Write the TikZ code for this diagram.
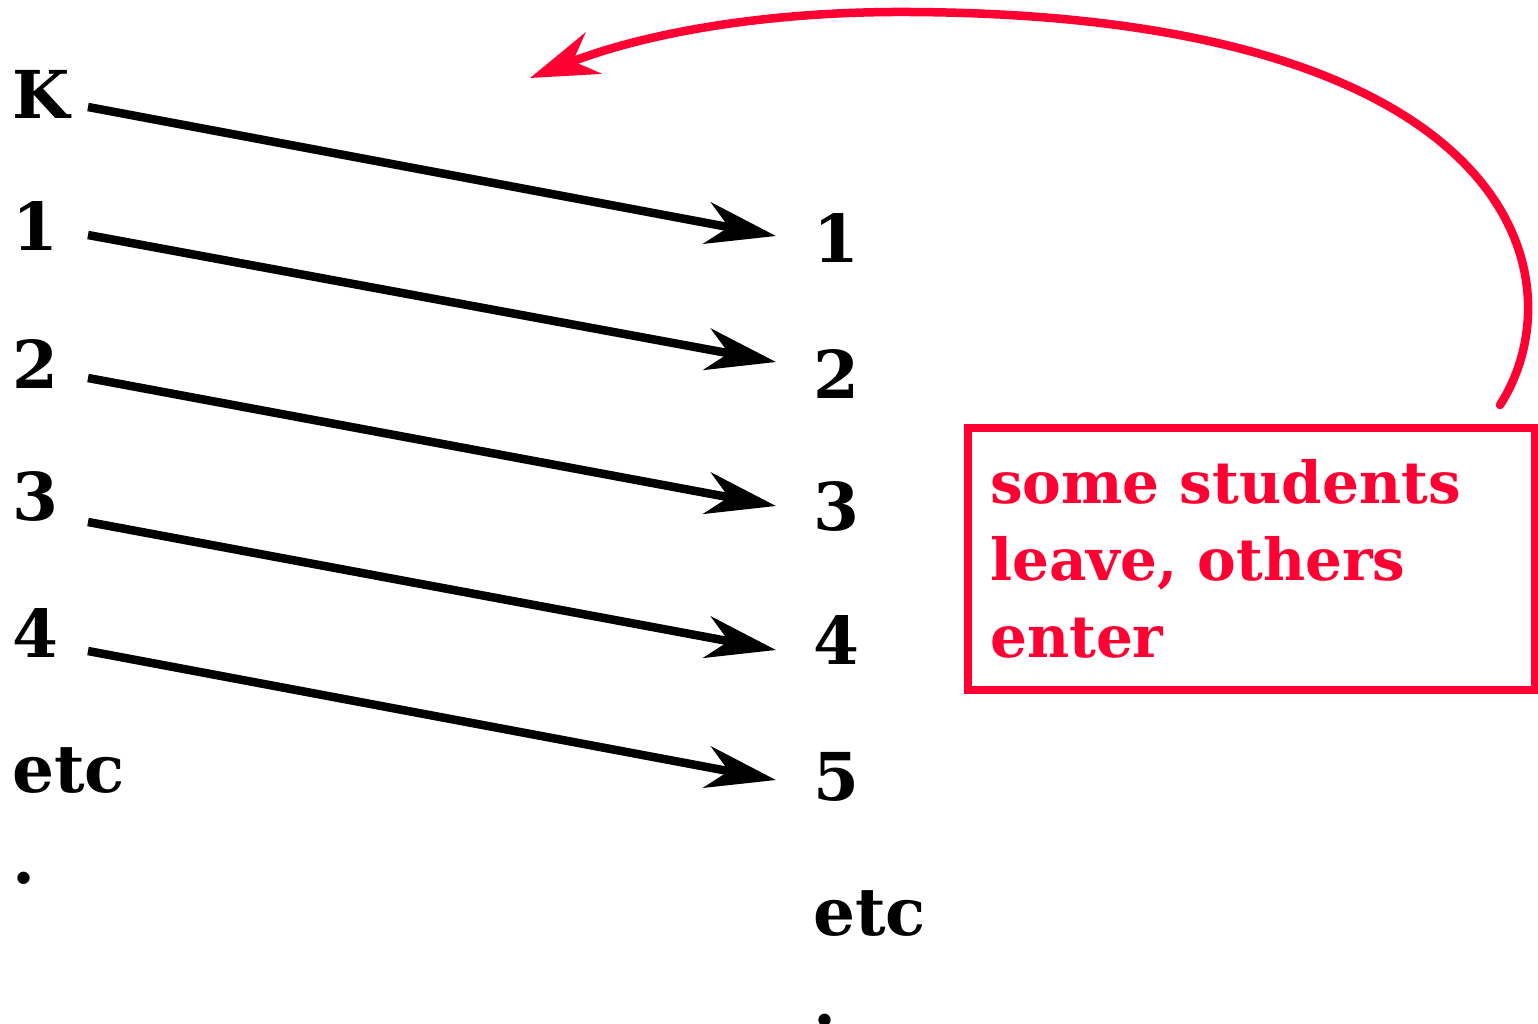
\documentclass[tikz,border=0pt]{standalone}
\usepackage{fontspec}
\setmainfont{DejaVu Serif}
\usetikzlibrary{arrows.meta}
\definecolor{rd}{HTML}{FF0033}
\tikzset{
  lbl/.style={anchor=base west,inner sep=0pt,font=\fontsize{66}{66}\selectfont\bfseries},
  rlbl/.style={anchor=base west,inner sep=0pt,align=left,text=rd,font=\fontsize{58}{77}\selectfont\bfseries},
  arr/.style={line width=8.5pt,-{Stealth[length=70pt,width=42pt,inset=22pt]}},
  rarr/.style={rd,line width=8.5pt,line cap=round,-{Stealth[length=68pt,width=44pt,inset=22pt]}},
}
\begin{document}
\begin{tikzpicture}[x=1pt,y=-1pt]
\useasboundingbox (0,0) rectangle (1538,1023);
% left column
\node[lbl] (lK) at (12,118) {K};
\node[lbl] (l1) at (12,250) {1};
\node[lbl] (l2) at (12,388) {2};
\node[lbl] (l3) at (12,520) {3};
\node[lbl] (l4) at (12,657) {4};
\node[lbl] (letc) at (12,792) {etc};
\node[lbl] (ldot) at (12,883) {.};
% right column
\node[lbl] (r1) at (813,262) {1};
\node[lbl] (r2) at (813,398) {2};
\node[lbl] (r3) at (813,530) {3};
\node[lbl] (r4) at (813,664) {4};
\node[lbl] (r5) at (813,800) {5};
\node[lbl] (retc) at (813,935) {etc};
\node[lbl] (rdot) at (813,1025) {.};
% arrow ends
\coordinate (sK) at (88,107);  \coordinate (e1) at (776,236);
\coordinate (s1) at (88,235);  \coordinate (e2) at (776,362);
\coordinate (s2) at (88,378);  \coordinate (e3) at (776,506);
\coordinate (s3) at (88,522);  \coordinate (e4) at (776,650);
\coordinate (s4) at (88,651);  \coordinate (e5) at (776,780);
\draw[arr] (sK) -- (e1);
\draw[arr] (s1) -- (e2);
\draw[arr] (s2) -- (e3);
\draw[arr] (s3) -- (e4);
\draw[arr] (s4) -- (e5);
% red box
\node[draw=rd,line width=8pt,minimum width=567pt,minimum height=262pt,inner sep=0pt,anchor=north west] (box) at (964,424) {};
\node[rlbl] (txt) at (990,657) {some students\\leave, others\\enter};
% red curve
\coordinate (cs) at (1500,405);
\coordinate (ct) at (530,78);
\draw[rarr] (cs) .. controls (1580,280) and (1520,15) .. (910,12)
  .. controls (760,11) and (640,35) .. (ct);
\end{tikzpicture}
\end{document}
